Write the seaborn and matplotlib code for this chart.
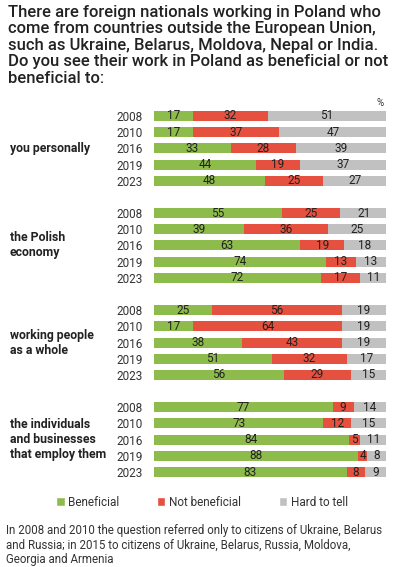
import numpy as np
import pandas as pd
import matplotlib
matplotlib.use("Agg")
import matplotlib.pyplot as plt
import seaborn as sns
from matplotlib.patches import Patch

groups = ["you personally", "the Polish\neconomy", "working people\nas a whole",
          "the individuals\nand businesses\nthat employ them"]
years = ["2008", "2010", "2016", "2019", "2023"]
beneficial = [[17, 17, 33, 44, 48], [55, 39, 63, 74, 72],
              [25, 17, 38, 51, 56], [77, 73, 84, 88, 83]]
not_beneficial = [[32, 37, 28, 19, 25], [25, 36, 19, 13, 17],
                  [56, 64, 43, 32, 29], [9, 12, 5, 4, 8]]
hard_to_tell = [[51, 47, 39, 37, 27], [21, 25, 18, 13, 11],
                [19, 19, 19, 17, 15], [14, 15, 11, 8, 9]]
series_names = ["Beneficial", "Not beneficial", "Hard to tell"]
colors = ["#8dbb4c", "#e6503f", "#c1c1c1"]

title = ("There are foreign nationals working in Poland who\n"
         "come from countries outside the European Union,\n"
         "such as Ukraine, Belarus, Moldova, Nepal or India.\n"
         "Do you see their work in Poland as beneficial or not\n"
         "beneficial to:")
footnote = ("In 2008 and 2010 the question referred only to citizens of Ukraine, Belarus\n"
            "and Russia; in 2015 to citizens of Ukraine, Belarus, Russia, Moldova,\n"
            "Georgia and Armenia")

rows = []
for g in range(len(groups)):
    for r, yr in enumerate(years):
        b = beneficial[g][r]
        n = not_beneficial[g][r]
        h = hard_to_tell[g][r]
        rows.append({"pos": g * 6 + r, "year": yr, "b": b, "n": n, "h": h,
                     "c1": b, "c2": b + n, "c3": b + n + h})
df = pd.DataFrame(rows)

sns.set_theme(style="white")
plt.rcParams["font.family"] = ["Roboto", "DejaVu Sans"]

fig = plt.figure(figsize=(3.97, 5.67), dpi=100)
ax = fig.add_axes([154 / 397, 1 - 480.1 / 567, 232 / 397, 372.2 / 567])

# stacked bars: draw cumulative totals back to front
for col, color in zip(["c3", "c2", "c1"], colors[::-1]):
    sns.barplot(data=df, x=col, y="pos", orient="h", native_scale=True,
                color=color, width=0.62, saturation=1, ax=ax, linewidth=0)

for _, row in df.iterrows():
    starts = [0, row["c1"], row["c2"]]
    for s, v in zip(starts, [row["b"], row["n"], row["h"]]):
        ax.text(s + v / 2, row["pos"], str(v), ha="center", va="center",
                fontsize=8.5, color="#222222")

ax.set_xlim(0, 100)
ax.set_ylim(22.5, -0.5)
ax.set_yticks(df["pos"])
ax.set_yticklabels(df["year"], fontsize=8.5, color="#333333")
ax.tick_params(axis="y", length=0, pad=8)
ax.set_xticks([])
ax.set_xlabel("")
ax.set_ylabel("")
sns.despine(ax=ax, left=True, bottom=True)

for g, name in enumerate(groups):
    ax.text(-0.621, g * 6 + 2, name, transform=ax.get_yaxis_transform(),
            ha="left", va="center", fontsize=8.8, fontweight="bold",
            color="#222222", linespacing=1.2)

fig.text(8 / 397, 1 - 5 / 567, title, ha="left", va="top", fontsize=12,
         fontweight="medium", color="#222222", linespacing=1.12)
fig.text(380 / 397, 1 - 103 / 567, "%", ha="center", va="center",
         fontsize=7, color="#333333")

handles = [Patch(facecolor=c, label=s) for c, s in zip(colors, series_names)]
fig.legend(handles=handles, loc="center", bbox_to_anchor=(202 / 397, 1 - 502 / 567),
           ncol=3, frameon=False, fontsize=8.5, handlelength=0.7, handleheight=0.7,
           handletextpad=0.3, columnspacing=3.2, labelcolor="#333333")

fig.text(6 / 397, 1 - 545 / 567, footnote, ha="left", va="center", fontsize=8.3,
         color="#333333", linespacing=1.15)

fig.savefig("out.png", dpi=100)
